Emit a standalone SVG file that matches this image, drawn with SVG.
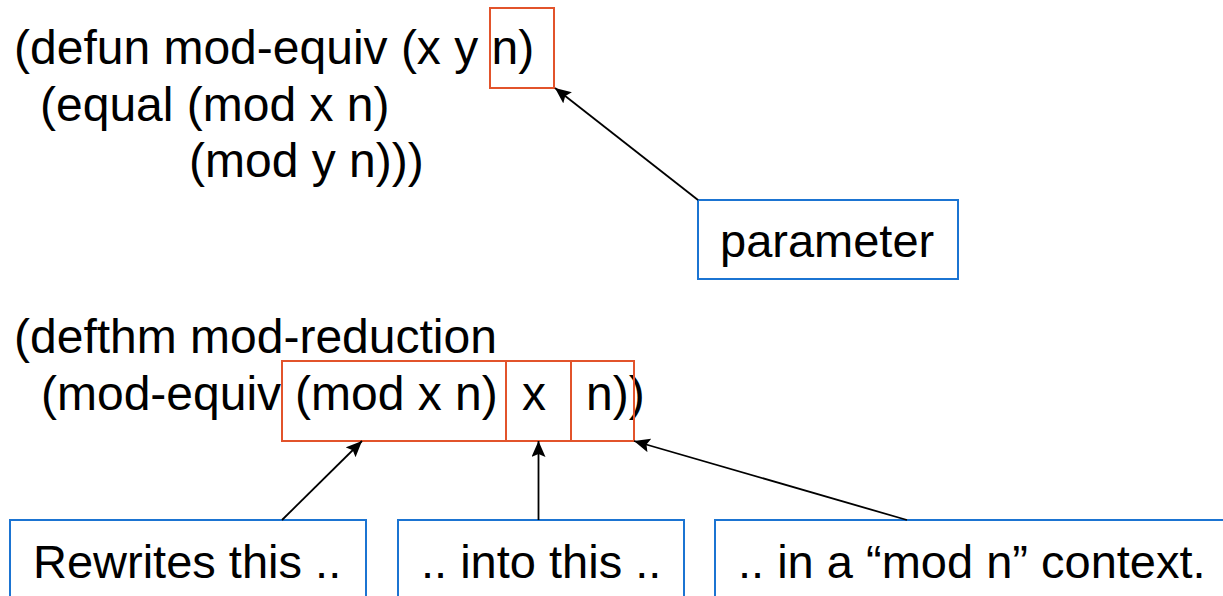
<svg xmlns="http://www.w3.org/2000/svg" width="1223" height="596" viewBox="0 0 1223 596">
<style>
text{font-family:"Liberation Sans",Arial,sans-serif;font-size:47px;fill:#000;white-space:pre}
.code{font-size:48px}
.hl{fill:none;stroke:#E2532B;stroke-width:2}
.nb{fill:#fff;stroke:#1B74D2;stroke-width:2}
.cn{stroke:#000;stroke-width:1.8;fill:none;marker-end:url(#ah)}
</style>
<defs>
<marker id="ah" viewBox="0 0 16 14" refX="16" refY="7" markerWidth="16" markerHeight="14" markerUnits="userSpaceOnUse" orient="auto">
<path d="M0,0 L16,7 L0,14 L3,7 z" fill="#000"/>
</marker>
</defs>
<rect width="1223" height="596" fill="#fff"/>
<g id="code-defun" class="code">
<text class="code" x="14" y="64">(defun mod-equiv (x y n)</text>
<text class="code" x="40" y="121">(equal (mod x n)</text>
<text class="code" x="189" y="177">(mod y n)))</text>
</g>
<g id="hl-param"><rect class="hl" x="490" y="8" width="64" height="80"/></g>
<g id="code-defthm">
<text class="code" x="14" y="353">(defthm mod-reduction</text>
<text class="code" x="41" y="410">(mod-equiv</text>
<text class="code" x="295" y="410">(mod x n)</text>
<text class="code" x="522" y="410">x</text>
<text class="code" x="586" y="410">n))</text>
</g>
<g id="hl-rewrite"><rect class="hl" x="282" y="361" width="224" height="80"/></g>
<g id="hl-into"><rect class="hl" x="506" y="361" width="65" height="80"/></g>
<g id="hl-context"><rect class="hl" x="571" y="361" width="63" height="80"/></g>
<g id="n-parameter"><rect class="nb" x="698" y="200" width="260" height="79"/><text x="720" y="257">parameter</text></g>
<g id="n-rewrites"><rect class="nb" x="10" y="520" width="356" height="90"/><text x="33" y="578">Rewrites this ..</text></g>
<g id="n-into"><rect class="nb" x="398" y="520" width="286" height="90"/><text x="421" y="578">.. into this ..</text></g>
<g id="n-context"><rect class="nb" x="715" y="520" width="520" height="90"/><text x="738" y="578">.. in a “mod n” context.</text></g>
<g id="connectors">
<line class="cn" x1="698" y1="200" x2="555" y2="88"/>
<line class="cn" x1="282" y1="520" x2="362" y2="441"/>
<line class="cn" x1="538.5" y1="520" x2="538.5" y2="441"/>
<line class="cn" x1="907" y1="520" x2="634" y2="441"/>
</g>
</svg>
